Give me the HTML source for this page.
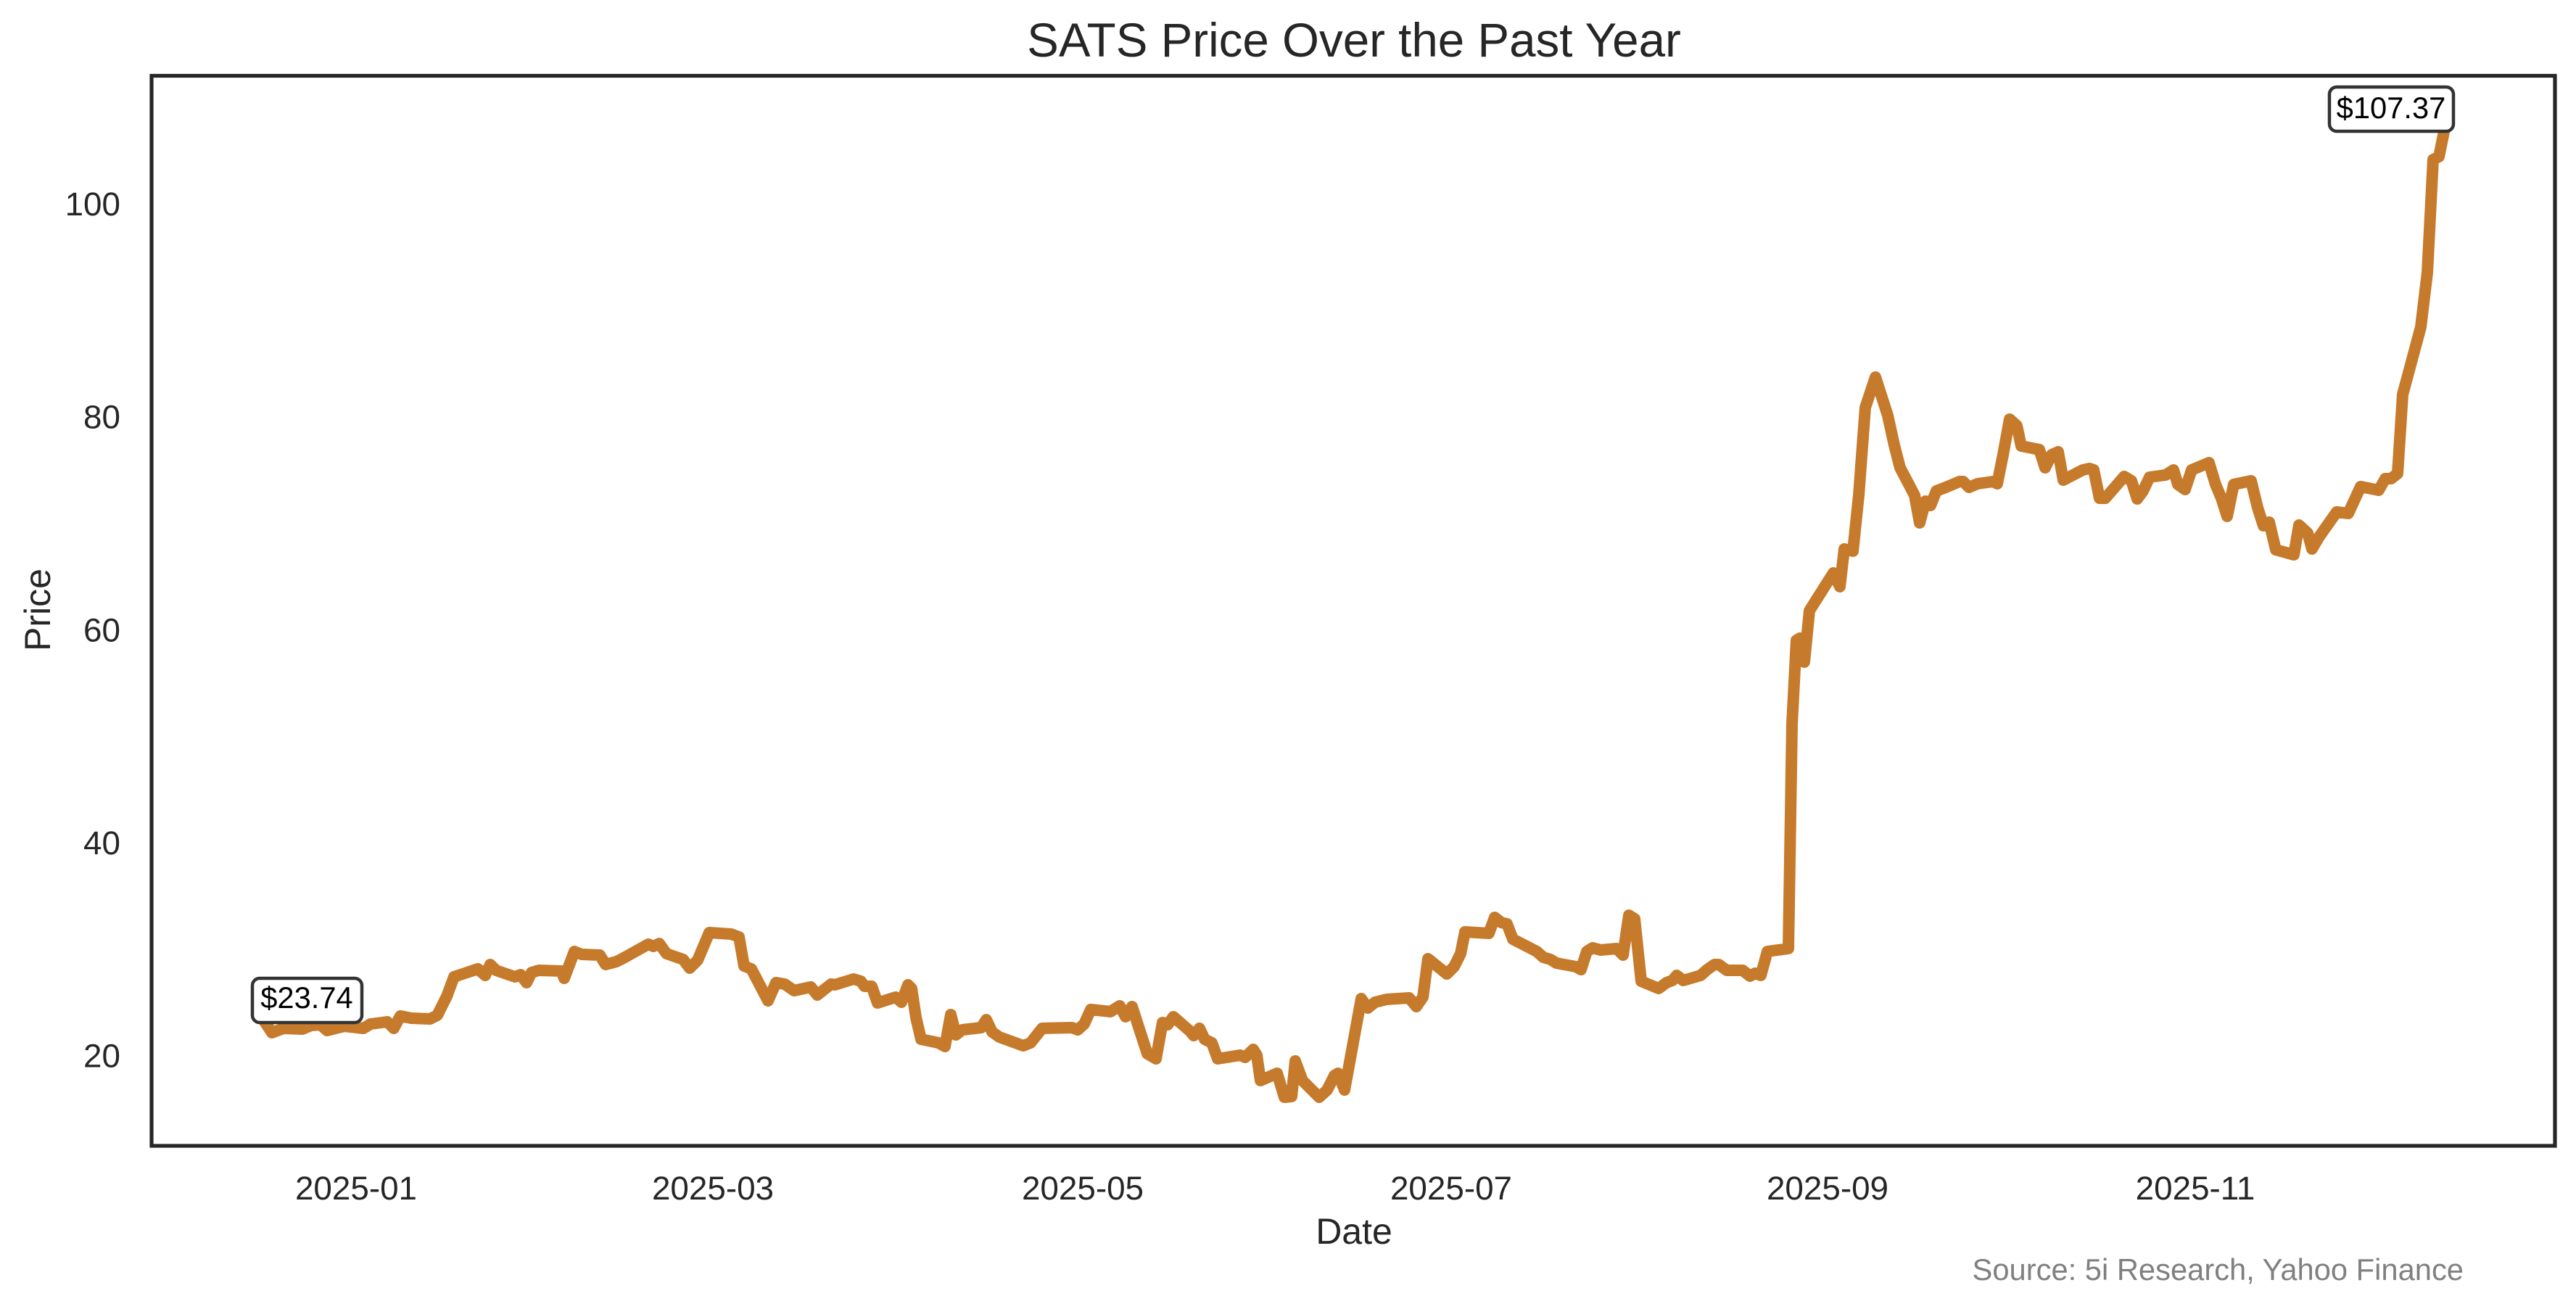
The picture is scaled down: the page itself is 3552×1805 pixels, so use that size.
<!DOCTYPE html>
<html>
<head>
<meta charset="utf-8">
<style>
  html, body { margin: 0; padding: 0; background: #ffffff; }
  svg { display: block; }
  text { font-family: "Liberation Sans", Arial, sans-serif; }
</style>
</head>
<body>
<svg width="3552" height="1805" viewBox="0 0 3552 1805" xmlns="http://www.w3.org/2000/svg">
  <rect x="0" y="0" width="3552" height="1805" fill="#ffffff"/>

  <!-- Title -->
  <text x="1867" y="78" font-size="65.5" fill="#262626" text-anchor="middle">SATS Price Over the Past Year</text>

  <!-- Series line -->
  <polyline fill="none" stroke="#c67a2c" stroke-width="16" stroke-linejoin="round" stroke-linecap="butt"
    points="359,1400 375,1424 391,1418 417,1419 429,1414 442,1413 451,1421 475,1415 501,1418 511,1412 534,1409 543,1418 552,1401 567,1404 593,1405 603,1400 616,1374 626,1347 659,1336 669,1345 676,1330 684,1338 710,1347 718,1344 726,1355 733,1341 743,1338 774,1339 778,1349 792,1312 802,1316 827,1317 835,1330 850,1326 858,1322 894,1302 901,1305 909,1301 919,1315 942,1323 951,1335 962,1324 978,1286 1008,1288 1019,1292 1026,1332 1036,1336 1059,1380 1070,1355 1082,1357 1095,1366 1118,1361 1127,1372 1146,1357 1151,1358 1177,1350 1187,1353 1192,1360 1202,1360 1210,1383 1235,1375 1243,1382 1252,1358 1257,1363 1263,1403 1270,1433 1294,1438 1303,1443 1311,1399 1318,1427 1327,1420 1353,1417 1360,1406 1368,1423 1378,1430 1411,1442 1421,1438 1437,1418 1478,1417 1486,1420 1495,1412 1504,1392 1531,1395 1544,1387 1552,1402 1561,1388 1569,1413 1582,1453 1594,1460 1603,1410 1610,1413 1618,1402 1641,1422 1646,1428 1654,1418 1661,1433 1671,1438 1679,1460 1710,1455 1717,1458 1728,1447 1733,1455 1738,1490 1761,1480 1771,1513 1781,1512 1786,1463 1796,1490 1819,1513 1830,1503 1840,1483 1845,1480 1854,1503 1877,1377 1886,1390 1896,1382 1912,1378 1943,1376 1953,1388 1962,1375 1969,1322 1995,1343 2005,1333 2014,1315 2020,1285 2053,1287 2061,1265 2070,1272 2078,1274 2086,1295 2119,1312 2128,1320 2138,1323 2146,1328 2173,1333 2180,1337 2188,1312 2196,1307 2207,1310 2229,1308 2238,1317 2246,1262 2254,1267 2263,1353 2287,1363 2298,1355 2306,1352 2312,1345 2321,1352 2345,1345 2354,1337 2364,1330 2370,1330 2381,1338 2403,1338 2413,1346 2420,1342 2428,1345 2437,1312 2466,1308 2471,998 2477,883 2482,880 2488,913 2495,842 2528,790 2537,809 2543,757 2555,760 2563,683 2572,562 2586,520 2603,573 2612,614 2620,645 2640,683 2647,721 2655,691 2662,697 2670,677 2683,672 2702,664 2707,664 2715,672 2727,667 2748,664 2754,667 2762,627 2771,578 2781,587 2787,615 2812,620 2820,645 2829,627 2838,623 2845,662 2872,648 2881,646 2887,648 2895,687 2903,687 2929,657 2939,663 2947,688 2955,677 2964,658 2986,655 2997,648 3003,668 3013,675 3022,648 3046,638 3055,668 3063,687 3071,712 3080,668 3104,663 3113,700 3121,725 3129,720 3138,758 3163,765 3170,724 3182,735 3188,757 3198,740 3222,706 3238,708 3255,671 3280,676 3289,660 3297,660 3306,653 3313,544 3338,451 3347,376 3355,220 3363,216 3372,172"/>

  <!-- Axes frame -->
  <rect x="209" y="104.5" width="3314" height="1475.5" fill="none" stroke="#262626" stroke-width="5.2"/>

  <!-- Y tick labels -->
  <g font-size="45.8" fill="#262626" text-anchor="end">
    <text x="166" y="1471.5">20</text>
    <text x="166" y="1178">40</text>
    <text x="166" y="884.3">60</text>
    <text x="166" y="590.6">80</text>
    <text x="166" y="297">100</text>
  </g>

  <!-- X tick labels -->
  <g font-size="45.8" fill="#262626" text-anchor="middle">
    <text x="491" y="1654">2025-01</text>
    <text x="983" y="1654">2025-03</text>
    <text x="1493" y="1654">2025-05</text>
    <text x="2001" y="1654">2025-07</text>
    <text x="2520" y="1654">2025-09</text>
    <text x="3027" y="1654">2025-11</text>
  </g>

  <!-- Axis labels -->
  <text x="1867" y="1715" font-size="50" fill="#262626" text-anchor="middle">Date</text>
  <text x="0" y="0" font-size="50" fill="#262626" text-anchor="middle" transform="translate(69,841) rotate(-90)">Price</text>

  <!-- Annotations -->
  <rect x="348" y="1349" width="151" height="61" rx="10" ry="10" fill="#ffffff" stroke="#333333" stroke-width="4.5"/>
  <text x="423" y="1390" font-size="41.7" fill="#000000" text-anchor="middle">$23.74</text>

  <rect x="3212" y="120" width="171" height="61" rx="10" ry="10" fill="#ffffff" stroke="#333333" stroke-width="4.5"/>
  <text x="3297" y="163" font-size="41.7" fill="#000000" text-anchor="middle">$107.37</text>

  <!-- Source -->
  <text x="3397" y="1765" font-size="41.7" fill="#808080" text-anchor="end">Source: 5i Research, Yahoo Finance</text>
</svg>
</body>
</html>
